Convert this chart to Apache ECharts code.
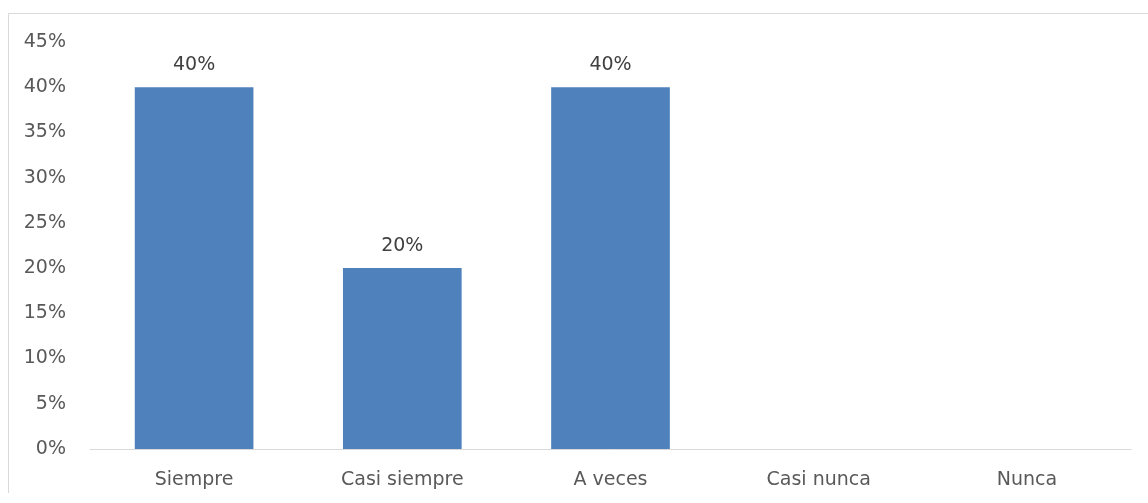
<!DOCTYPE html>
<html><head><meta charset="utf-8">
<script src="https://cdn.jsdelivr.net/npm/echarts@6/dist/echarts.min.js"></script>
<style>html,body{margin:0;padding:0;background:#fff}#c{width:1148px;height:503px}</style>
</head><body><div id="c"></div>
<script>
const categories = ["Siempre", "Casi siempre", "A veces", "Casi nunca", "Nunca"];
const values = [40, 20, 40, 0, 0];
const labelValues = [40, 20, 40, null, null];
const yTicks = [0, 5, 10, 15, 20, 25, 30, 35, 40, 45];

const chart = echarts.init(document.getElementById('c'), null, {renderer: 'canvas'});
const font = '"DejaVu Sans", sans-serif';
chart.setOption({
  animation: false,
  backgroundColor: '#fff',
  graphic: [{
    type: 'polyline', silent: true,
    shape: {points: [[8.5, 493], [8.5, 13.5], [1148, 13.5]]},
    style: {stroke: '#D9D9D9', lineWidth: 1, fill: null}
  }],
  grid: {left: 90, right: 17, top: 42, bottom: 54, containLabel: false},
  xAxis: {
    type: 'category', data: categories,
    axisLine: {show: true, lineStyle: {color: '#D9D9D9', width: 1}},
    axisTick: {show: false},
    axisLabel: {color: '#595959', fontFamily: font, fontSize: 19, margin: 22}
  },
  yAxis: {
    type: 'value', min: yTicks[0], max: yTicks[yTicks.length - 1], interval: 5,
    axisLine: {show: false}, axisTick: {show: false},
    splitLine: {show: false},
    axisLabel: {color: '#595959', fontFamily: font, fontSize: 19, margin: 24, formatter: v => v + '%'}
  },
  series: [{
    type: 'bar', data: values, barCategoryGap: '43%',
    itemStyle: {color: '#4F81BD'},
    label: {
      show: true, position: 'top', distance: 13,
      color: '#404040', fontFamily: font, fontSize: 19,
      formatter: p => labelValues[p.dataIndex] == null ? '' : labelValues[p.dataIndex] + '%'
    }
  }]
});
</script></body></html>
